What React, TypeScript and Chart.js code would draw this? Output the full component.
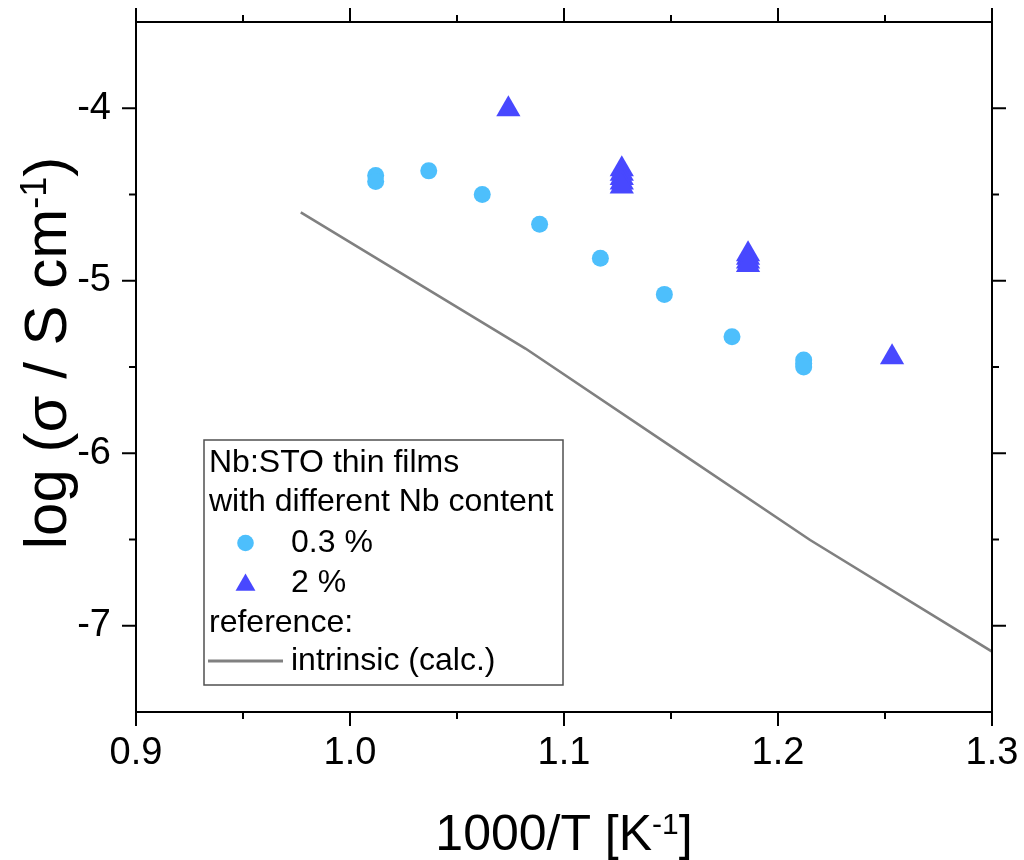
import React, { useEffect, useRef } from "react";
import { Chart, registerables } from "chart.js";

Chart.register(...registerables);

// ---------- data ----------
const lowNbX = [1.012, 1.012, 1.0368, 1.0618, 1.0886, 1.117, 1.1469, 1.1785, 1.212, 1.212, 1.212];
const lowNbY = [-4.39, -4.425, -4.363, -4.5, -4.672, -4.869, -5.079, -5.325, -5.46, -5.48, -5.5];

const highNbX = [1.074, 1.127, 1.127, 1.127, 1.127, 1.127, 1.186, 1.186, 1.186, 1.186, 1.2533];
const highNbY = [-4.006, -4.353, -4.38, -4.405, -4.43, -4.454, -4.846, -4.866, -4.888, -4.908, -5.443];

const intrinsicX = [0.977, 1.082, 1.15, 1.215, 1.3];
const intrinsicY = [-4.603, -5.393, -5.96, -6.503, -7.15];

const xMajorTicks = [0.9, 1.0, 1.1, 1.2, 1.3];
const xMinorTicks = [0.95, 1.05, 1.15, 1.25];
const yMajorTicks = [-7, -6, -5, -4];
const yMinorTicks = [-6.5, -5.5, -4.5];

const legendHeader = ["Nb:STO thin films", "with different Nb content"];
const legendLow = "0.3 %";
const legendHigh = "2 %";
const legendRefHeader = "reference:";
const legendRef = "intrinsic (calc.)";

const FONT = '"Liberation Sans", Arial, sans-serif';
const LOW_COLOR = "rgb(77,191,252)";
const HIGH_COLOR = "rgb(72,72,255)";
const LINE_COLOR = "rgb(128,128,128)";

function drawParts(
  ctx: CanvasRenderingContext2D,
  parts: { t: string; sup?: boolean }[],
  cx: number,
  baseY: number,
  size: number,
  supSize: number,
  raise: number
) {
  let total = 0;
  const widths = parts.map((p) => {
    ctx.font = `${p.sup ? supSize : size}px ${FONT}`;
    const w = ctx.measureText(p.t).width;
    total += w;
    return w;
  });
  let x = cx - total / 2;
  ctx.textAlign = "left";
  ctx.textBaseline = "alphabetic";
  parts.forEach((p, i) => {
    ctx.font = `${p.sup ? supSize : size}px ${FONT}`;
    ctx.fillText(p.t, x, p.sup ? baseY - raise : baseY);
    x += widths[i];
  });
}

const decorPlugin = {
  id: "decor",
  afterDraw(chart: any) {
    const { ctx, chartArea: a, scales } = chart;
    const xs = scales.x;
    const ys = scales.y;
    ctx.save();
    // frame
    ctx.strokeStyle = "#000";
    ctx.lineWidth = 2;
    ctx.strokeRect(a.left, a.top, a.right - a.left, a.bottom - a.top);
    const tick = (x1: number, y1: number, x2: number, y2: number) => {
      ctx.beginPath();
      ctx.moveTo(x1, y1);
      ctx.lineTo(x2, y2);
      ctx.stroke();
    };
    xMajorTicks.forEach((v) => {
      const p = xs.getPixelForValue(v);
      tick(p, a.bottom, p, a.bottom + 14);
      tick(p, a.top, p, a.top - 14);
    });
    xMinorTicks.forEach((v) => {
      const p = xs.getPixelForValue(v);
      tick(p, a.bottom, p, a.bottom + 7);
      tick(p, a.top, p, a.top - 7);
    });
    yMajorTicks.forEach((v) => {
      const p = ys.getPixelForValue(v);
      tick(a.left, p, a.left - 14, p);
      tick(a.right, p, a.right + 14, p);
    });
    yMinorTicks.forEach((v) => {
      const p = ys.getPixelForValue(v);
      tick(a.left, p, a.left - 7, p);
      tick(a.right, p, a.right + 7, p);
    });

    // axis titles
    ctx.fillStyle = "#000";
    drawParts(
      ctx,
      [{ t: "1000/T [K" }, { t: "-1", sup: true }, { t: "]" }],
      (a.left + a.right) / 2,
      850,
      50,
      30,
      16
    );
    ctx.save();
    ctx.translate(66, 353);
    ctx.rotate(-Math.PI / 2);
    drawParts(
      ctx,
      [{ t: "log (σ / S cm" }, { t: "-1", sup: true }, { t: ")" }],
      0,
      0,
      60,
      36,
      20
    );
    ctx.restore();

    // legend
    const lx = 204, ly = 440, lw = 359, lh = 245;
    ctx.fillStyle = "#fff";
    ctx.fillRect(lx, ly, lw, lh);
    ctx.strokeStyle = "#505050";
    ctx.lineWidth = 1.5;
    ctx.strokeRect(lx, ly, lw, lh);
    ctx.fillStyle = "#000";
    ctx.font = `32px ${FONT}`;
    ctx.textAlign = "left";
    ctx.textBaseline = "middle";
    const tx = 209;
    const rows = [463, 502, 543, 583, 623, 661];
    ctx.fillText(legendHeader[0], tx, rows[0]);
    ctx.fillText(legendHeader[1], tx, rows[1]);
    ctx.fillText(legendLow, 291, rows[2]);
    ctx.fillText(legendHigh, 291, rows[3]);
    ctx.fillText(legendRefHeader, tx, rows[4]);
    ctx.fillText(legendRef, 291, rows[5]);
    // markers
    ctx.fillStyle = LOW_COLOR;
    ctx.beginPath();
    ctx.arc(245.5, rows[2], 8.3, 0, Math.PI * 2);
    ctx.fill();
    ctx.fillStyle = HIGH_COLOR;
    const r = 11.5;
    const cy = rows[3] + 2;
    ctx.beginPath();
    ctx.moveTo(245.5, cy - r);
    ctx.lineTo(245.5 + r * Math.sin((2 * Math.PI) / 3), cy + r / 2);
    ctx.lineTo(245.5 - r * Math.sin((2 * Math.PI) / 3), cy + r / 2);
    ctx.closePath();
    ctx.fill();
    ctx.strokeStyle = LINE_COLOR;
    ctx.lineWidth = 3;
    ctx.beginPath();
    ctx.moveTo(208, rows[5]);
    ctx.lineTo(283, rows[5]);
    ctx.stroke();
    ctx.restore();
  },
};

export default function App() {
  const ref = useRef<HTMLCanvasElement>(null);
  useEffect(() => {
    const canvas = ref.current;
    if (!canvas) return;
    const chart = new Chart(canvas, {
      type: "scatter",
      data: {
        datasets: [
          {
            label: legendRef,
            data: intrinsicX.map((x, i) => ({ x, y: intrinsicY[i] })),
            showLine: true,
            borderColor: LINE_COLOR,
            borderWidth: 2.6,
            pointRadius: 0,
            pointHoverRadius: 0,
            order: 3,
          },
          {
            label: legendLow,
            data: lowNbX.map((x, i) => ({ x, y: lowNbY[i] })),
            pointStyle: "circle",
            pointRadius: 8.5,
            backgroundColor: LOW_COLOR,
            borderColor: LOW_COLOR,
            borderWidth: 0,
            order: 2,
          },
          {
            label: legendHigh,
            data: highNbX.map((x, i) => ({ x, y: highNbY[i] })),
            pointStyle: "triangle",
            pointRadius: 14,
            backgroundColor: HIGH_COLOR,
            borderColor: HIGH_COLOR,
            borderWidth: 0,
            order: 1,
          },
        ],
      },
      options: {
        responsive: false,
        animation: false,
        events: [],
        layout: { padding: { top: 22, right: 32, bottom: 0, left: 0 } },
        plugins: {
          legend: { display: false },
          tooltip: { enabled: false },
        },
        scales: {
          x: {
            type: "linear",
            min: 0.9,
            max: 1.3,
            grid: { display: false, drawTicks: false },
            border: { display: false },
            afterBuildTicks: (s: any) => {
              s.ticks = xMajorTicks.map((v) => ({ value: v }));
            },
            afterFit: (s: any) => {
              s.height = 148;
              s.paddingLeft = 0;
              s.paddingRight = 0;
            },
            ticks: {
              color: "#000",
              padding: 19,
              maxRotation: 0,
              autoSkip: false,
              font: { family: FONT, size: 38 },
              callback: (v: any) => Number(v).toFixed(1),
            },
          },
          y: {
            type: "linear",
            min: -7.5,
            max: -3.5,
            grid: { display: false, drawTicks: false },
            border: { display: false },
            afterBuildTicks: (s: any) => {
              s.ticks = yMajorTicks.map((v) => ({ value: v }));
            },
            afterFit: (s: any) => {
              s.width = 136;
              s.paddingTop = 0;
              s.paddingBottom = 0;
            },
            ticks: {
              color: "#000",
              padding: 25,
              autoSkip: false,
              font: { family: FONT, size: 38 },
              callback: (v: any) => String(v),
            },
          },
        },
      },
      plugins: [decorPlugin],
    });
    return () => chart.destroy();
  }, []);
  return (
    <div style={{ position: "absolute", left: 0, top: 0, width: 1024, height: 860, background: "#fff" }}>
      <canvas ref={ref} width={1024} height={860} style={{ display: "block" }} />
    </div>
  );
}
